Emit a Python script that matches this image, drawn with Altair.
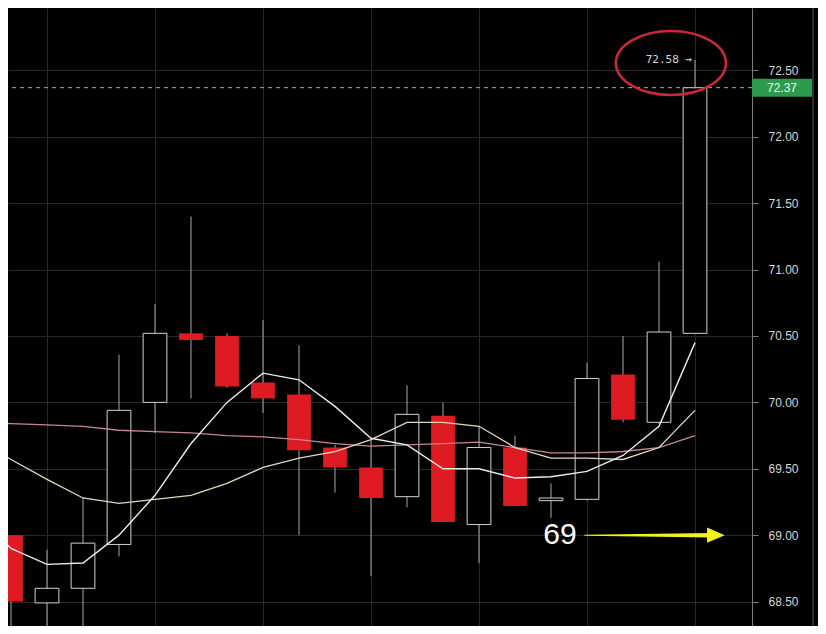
import altair as alt
import pandas as pd

# ---- candle data ----
idx = list(range(20))
opens = [69.00, 68.49, 68.60, 68.93, 70.00, 70.52, 70.50, 70.15, 70.06, 69.66,
         69.51, 69.29, 69.90, 69.08, 69.66, 69.26, 69.27, 70.21, 69.85, 70.52]
closes = [68.50, 68.60, 68.94, 69.94, 70.52, 70.47, 70.12, 70.03, 69.64, 69.51,
          69.28, 69.91, 69.10, 69.66, 69.22, 69.28, 70.18, 69.87, 70.53, 72.37]
highs = [69.00, 68.89, 69.28, 70.36, 70.74, 71.40, 70.52, 70.62, 70.43, 69.68,
         69.72, 70.13, 70.00, 69.82, 69.75, 69.39, 70.30, 70.50, 71.06, 72.58]
lows = [68.20, 68.20, 68.20, 68.84, 69.77, 70.03, 70.11, 69.92, 69.00, 69.32,
        68.69, 69.21, 69.10, 68.79, 69.22, 69.13, 69.26, 69.85, 69.84, 70.52]

# ---- moving averages ----
ma_idx = list(range(-1, 20))
ma_fast = [69.17, 68.90, 68.78, 68.79, 69.00, 69.30, 69.69, 70.00, 70.22, 70.17, 69.97,
           69.73, 69.68, 69.50, 69.50, 69.43, 69.44, 69.48, 69.60, 69.82, 70.45]
ma_mid = [69.72, 69.57, 69.42, 69.28, 69.24, 69.27, 69.30, 69.39, 69.51, 69.58, 69.63,
          69.72, 69.85, 69.85, 69.82, 69.66, 69.58, 69.58, 69.57, 69.66, 69.94]
ma_slow = [69.85, 69.84, 69.83, 69.82, 69.79, 69.78, 69.77, 69.75, 69.74, 69.72, 69.69,
           69.67, 69.68, 69.69, 69.70, 69.66, 69.62, 69.62, 69.63, 69.66, 69.75]

y_ticks = [68.5, 69.0, 69.5, 70.0, 70.5, 71.0, 71.5, 72.0, 72.5, 73.0]
grid_x = [1, 4, 7, 10, 13, 16, 19]
last_price = 72.37
peak_price = 72.58
peak_label = "72.58 →"
marker_level = 69.00
marker_label = "69"

df = pd.DataFrame(dict(i=idx, open=opens, close=closes, high=highs, low=lows))
df["up"] = df["close"] >= df["open"]
df["lo"] = df[["open", "close"]].min(axis=1)
df["hi"] = df[["open", "close"]].max(axis=1)
df["xl"] = df["i"] - 0.33
df["xr"] = df["i"] + 0.33

ma = pd.DataFrame(dict(i=ma_idx, fast=ma_fast, mid=ma_mid, slow=ma_slow))

xs = alt.Scale(domain=[-0.083, 20.583], nice=False, zero=False)
ys = alt.Scale(domain=[68.316, 72.970], nice=False, zero=False)

x_axis = alt.Axis(values=grid_x, grid=True, labels=False, ticks=False, domain=False,
                  title=None, gridColor="#282828")
y_axis = alt.Axis(orient="right", values=y_ticks, format=".2f", grid=True,
                  gridColor="#282828", domainColor="#7c7c7c", tickColor="#7c7c7c",
                  tickSize=6, labelPadding=10, labelColor="#d6d6d6",
                  labelFont="Liberation Sans", labelFontSize=12, title=None)


def X(f):
    return alt.X(f, scale=xs, axis=x_axis, title=None)


def Y(f):
    return alt.Y(f, scale=ys, axis=y_axis, title=None)


W, H = 744, 618

wicks = alt.Chart(df).mark_rule(color="#a8a8a8", strokeWidth=1, clip=True).encode(
    x=X("i:Q"), y=Y("low:Q"), y2="high:Q")

up_bodies = alt.Chart(df).transform_filter("datum.up").mark_rect(
    fill="#000000", stroke="#cdd5cd", strokeWidth=1, clip=True).encode(
    x=X("xl:Q"), x2="xr:Q", y=Y("lo:Q"), y2="hi:Q")

down_bodies = alt.Chart(df).transform_filter("!datum.up").mark_rect(
    fill="#de1a22", clip=True).encode(
    x=X("xl:Q"), x2="xr:Q", y=Y("lo:Q"), y2="hi:Q")


def ma_line(col, color, w):
    return alt.Chart(ma).mark_line(color=color, strokeWidth=w, clip=True).encode(
        x=X("i:Q"), y=Y(f"{col}:Q"))


l_slow = ma_line("slow", "#c4879b", 1.3)
l_mid = ma_line("mid", "#e4d8bc", 1.3)
l_fast = ma_line("fast", "#ececec", 1.4)

last_df = pd.DataFrame({"p": [last_price], "t": [f"{last_price:.2f}"]})
dash = alt.Chart(last_df).mark_rule(color="#9fb49f", strokeDash=[4, 4], strokeWidth=1).encode(
    y=Y("p:Q"))
tag = alt.Chart(last_df).mark_rule(color="#2e9a4e", strokeWidth=18, strokeCap="butt").encode(
    x=alt.value(744), x2=alt.value(804), y=Y("p:Q"))
tag_text = alt.Chart(last_df).mark_text(align="left", baseline="middle", color="#eafbea",
                                        font="Liberation Sans", fontSize=12).encode(
    x=alt.value(759), y=Y("p:Q"), text="t:N")

edge = alt.Chart(last_df).mark_rule(color="#5a5a5a", strokeWidth=1).encode(
    x=alt.value(805), y=alt.value(0), y2=alt.value(H))

peak_df = pd.DataFrame({"i": [19], "p": [peak_price], "t": [peak_label]})
peak_text = alt.Chart(peak_df).mark_text(align="right", baseline="middle", dx=-3, color="#d8d8d8",
                                         font="DejaVu Sans Mono", fontSize=11).encode(
    x=X("i:Q"), y=Y("p:Q"), text="t:N")

ell_df = pd.DataFrame({"i": [18.33], "p": [72.556]})
ellipse = alt.Chart(ell_df).mark_point(
    shape="M -1.72 0 A 1.72 1 0 1 0 1.72 0 A 1.72 1 0 1 0 -1.72 0 Z",
    size=4096, filled=False, stroke="#c9283a", strokeWidth=2.6, opacity=1).encode(
    x=X("i:Q"), y=Y("p:Q"))

m_df = pd.DataFrame({"i": [15.25], "p": [marker_level], "t": [marker_label]})
m_text = alt.Chart(m_df).mark_text(align="center", baseline="middle", color="#ffffff",
                                   font="Liberation Sans", fontSize=30).encode(
    x=X("i:Q"), y=Y("p:Q"), text="t:N")

arrow_df = pd.DataFrame({"i": [15.94, 19.47], "p": [marker_level, marker_level], "w": [1.0, 4.5]})
arrow = alt.Chart(arrow_df).mark_trail(color="#f2f21e").encode(
    x=X("i:Q"), y=Y("p:Q"), size=alt.Size("w:Q", scale=None, legend=None))
head_df = pd.DataFrame({"i": [19.58], "p": [marker_level]})
head = alt.Chart(head_df).mark_point(shape="M -1.1 -0.95 L 1.1 0 L -1.1 0.95 Z", size=256,
                                     filled=True, color="#f2f21e", opacity=1).encode(
    x=X("i:Q"), y=Y("p:Q"))

chart = alt.layer(
    wicks, up_bodies, down_bodies, l_slow, l_mid, l_fast, dash, tag, tag_text, edge,
    peak_text, ellipse, m_text, arrow, head
).properties(
    width=W, height=H,
    autosize=alt.AutoSizeParams(type="none"),
    padding={"left": 0, "top": 0, "right": 66, "bottom": 0},
).configure(background="#000000").configure_view(stroke=None)

chart.save("out.html", embed_options={"renderer": "svg", "actions": False})
